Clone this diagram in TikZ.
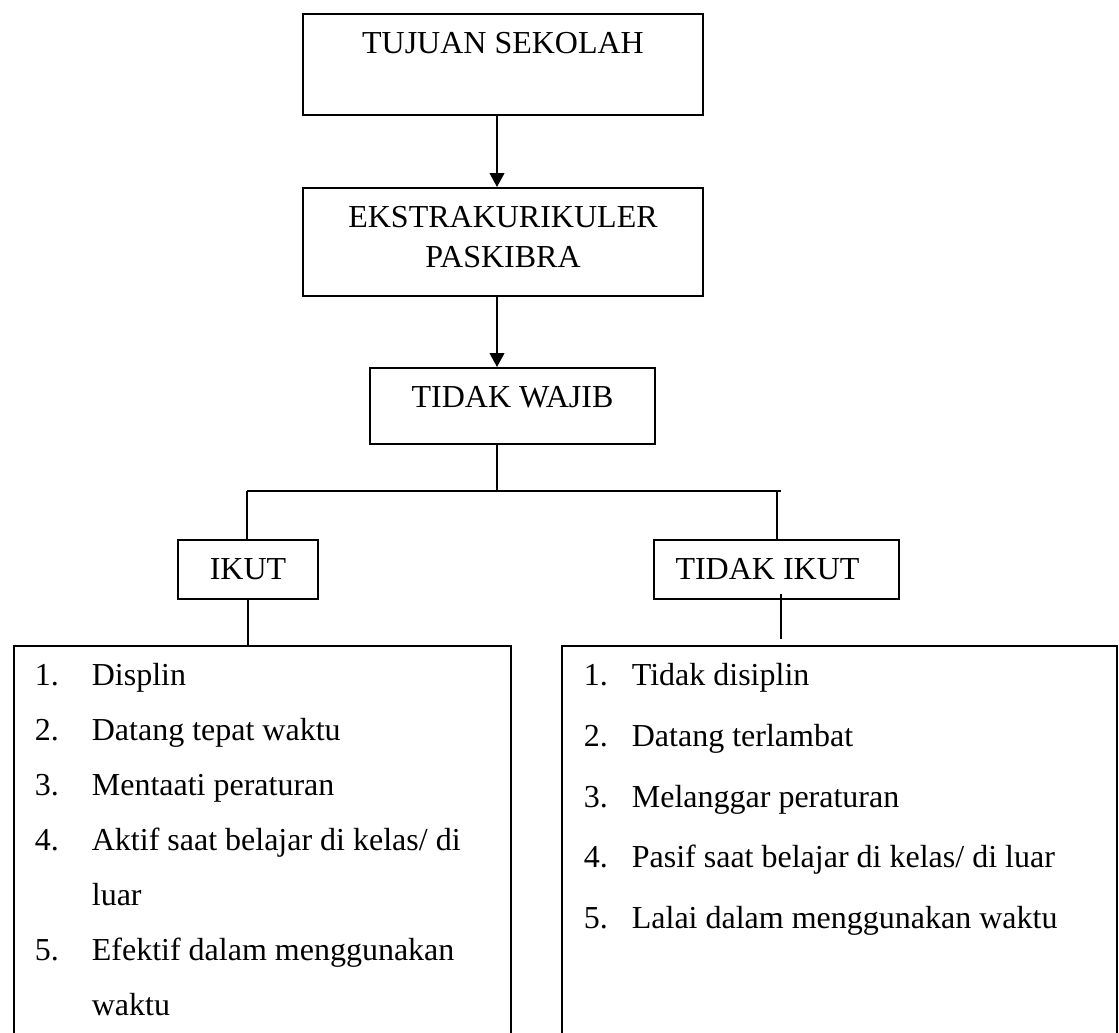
\documentclass[tikz,border=0pt]{standalone}
\usepackage{fontspec}
\setmainfont{Liberation Serif}
\usepackage{tikz}
\usetikzlibrary{arrows.meta,positioning}

\begin{document}
\begin{tikzpicture}[x=0.75pt, y=-0.75pt,
    every node/.style={font=\fontsize{24pt}{30pt}\selectfont},
    kotak/.style={draw, line width=1.3pt, inner sep=0pt, anchor=north, text height=30pt},
    garis/.style={line width=1.2pt},
    panah/.style={line width=1.5pt, -{Triangle[length=10.5pt, width=11pt]}}]
    \clip (0,0) rectangle (1119,1032);

    % Boxes at the top
    \node[kotak, text depth=45.75pt, minimum width=300pt] (tujuan) at (503,13) {TUJUAN SEKOLAH};
    \node[kotak, text depth=51pt] (ekstra) at (503,187)
        {\parbox[t]{300pt}{\centering EKSTRAKURIKULER\\PASKIBRA}};
    \node[kotak, text depth=27pt, minimum width=213.75pt] (wajib) at (512.5,367) {TIDAK WAJIB};

    % Two choices
    \node[kotak, text depth=14.25pt, minimum width=105pt] (ikut) at (248,539) {IKUT};
    \node[kotak, text depth=14.25pt, minimum width=183.75pt] (tdkikut) at (776.5,539) {TIDAK IKUT\hspace*{13.5pt}};

    % Lists
    \node[kotak, anchor=north west, text depth=273.75pt, font=\fontsize{24pt}{41.25pt}\selectfont]
        (daftarkiri) at (13,645) {%
        \begin{tabular}[t]{@{\hspace{15.75pt}}p{42.75pt}@{}p{314.25pt}@{}}
        1. & Displin\\
        2. & Datang tepat waktu\\
        3. & Mentaati peraturan\\
        4. & Aktif saat belajar di kelas/ di\\
           & luar\\
        5. & Efektif dalam menggunakan\\
           & waktu
        \end{tabular}};
    \node[kotak, anchor=north west, text depth=273.75pt, font=\fontsize{24pt}{45.5pt}\selectfont]
        (daftarkanan) at (561,645) {%
        \begin{tabular}[t]{@{\hspace{16.5pt}}p{36pt}@{}p{363.75pt}@{}}
        1. & Tidak disiplin\\
        2. & Datang terlambat\\
        3. & Melanggar peraturan\\
        4. & Pasif saat belajar di kelas/ di luar\\
        5. & Lalai dalam menggunakan waktu
        \end{tabular}};

    % Arrows
    \coordinate (poros) at (497,0);
    \draw[panah] (tujuan.south -| poros) -- (ekstra.north -| poros);
    \draw[panah] (ekstra.south -| poros) -- (wajib.north -| poros);

    % Branches
    \coordinate (cabang) at (497,491);
    \coordinate (kiri) at (247,491);
    \coordinate (kanan) at (781,491);
    \coordinate (turun) at (777,491);
    \draw[garis] (wajib.south -| poros) -- (cabang);
    \draw[garis] (kiri) -- (kanan);
    \draw[garis] (kiri) -- (kiri |- ikut.north);
    \draw[garis] (turun) -- (turun |- tdkikut.north);
    \draw[garis] (ikut.south) -- (ikut.south |- daftarkiri.north);
    \coordinate (pangkal) at (781,594);
    \coordinate (ujung) at (781,639);
    \draw[garis] (pangkal) -- (ujung);
\end{tikzpicture}
\end{document}
